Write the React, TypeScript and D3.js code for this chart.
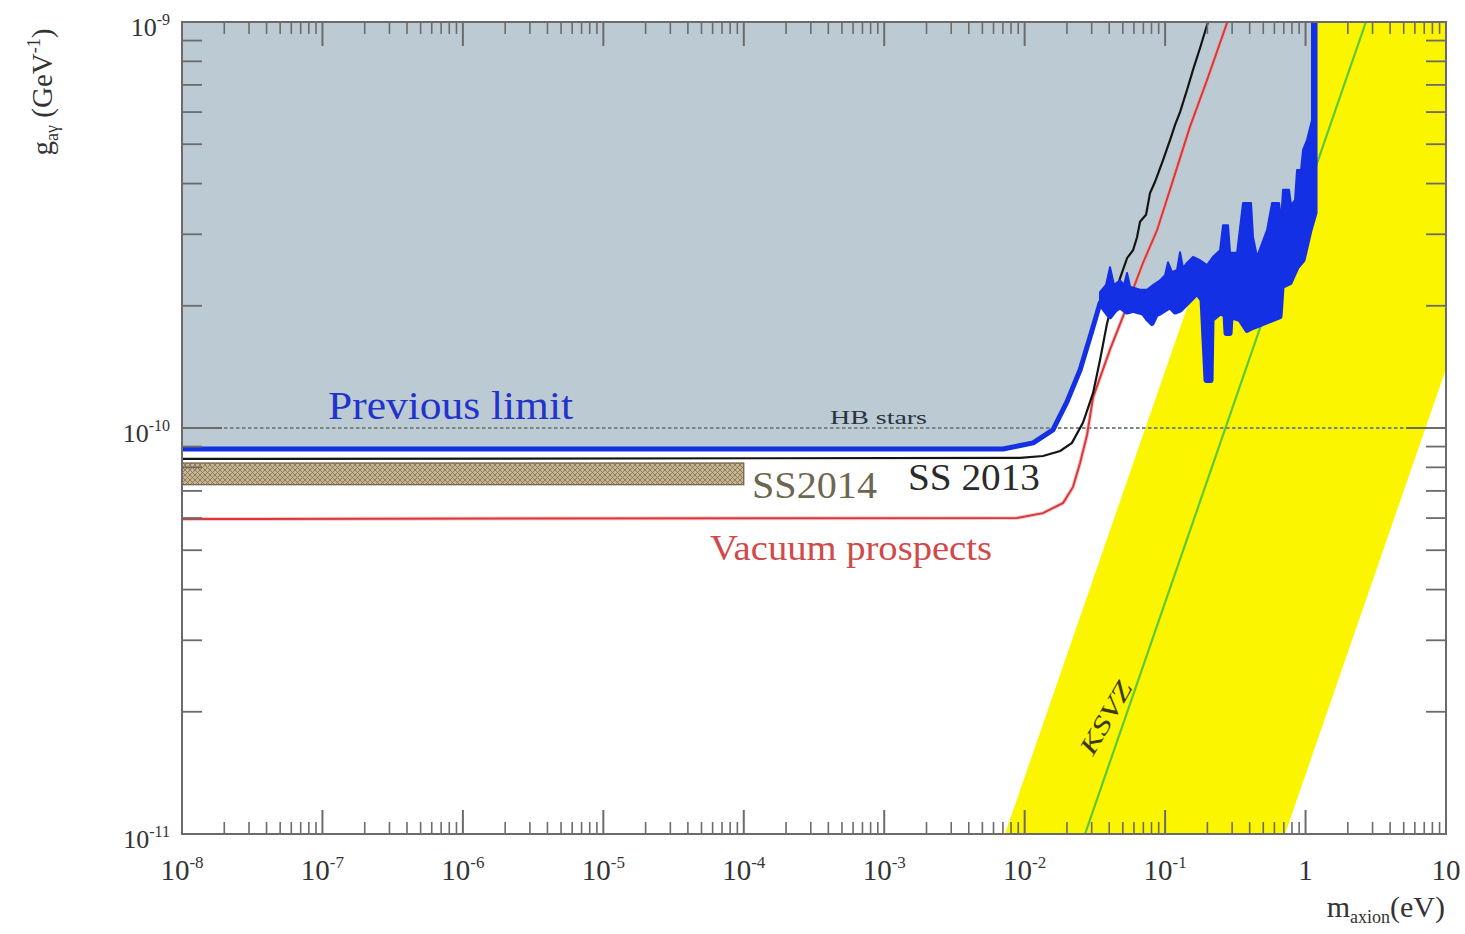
import React from 'react';
import * as d3 from 'd3';

// ---------- axes ----------
const xDomain: [number, number] = [1e-8, 10];
const yDomain: [number, number] = [1e-11, 1e-9];
const xTickValues = [1e-8, 1e-7, 1e-6, 1e-5, 1e-4, 1e-3, 1e-2, 1e-1, 1, 10];
const xTickBase = ['10', '10', '10', '10', '10', '10', '10', '10', '1', '10'];
const xTickExp = ['-8', '-7', '-6', '-5', '-4', '-3', '-2', '-1', '', ''];
const yTickValues = [1e-11, 1e-10, 1e-9];
const yTickExp = ['-11', '-10', '-9'];
const minorMultipliers = [2, 3, 4, 5, 6, 7, 8, 9];

// ---------- previous limit (blue) ----------
const prevMass = [1e-8, 7.02e-3, 1.15e-2, 1.59e-2, 2.0e-2, 2.48e-2, 3.02e-2, 3.44e-2];
const prevG = [8.88e-11, 8.88e-11, 9.19e-11, 9.89e-11, 1.16e-10, 1.39e-10, 1.74e-10, 2.03e-10];

const noiseUpperMass = [0.03441, 0.03796, 0.04053, 0.04327, 0.04775, 0.05099, 0.05357, 0.05626, 0.06628, 0.07434,
  0.08204, 0.09201, 0.09986, 0.1049, 0.112, 0.1216, 0.1277, 0.1341, 0.1432, 0.158, 0.1773, 0.1988, 0.2194, 0.2461,
  0.2585, 0.2805, 0.29, 0.3252, 0.3588, 0.4091, 0.4227, 0.4514, 0.5317, 0.5773, 0.6475, 0.669, 0.6914, 0.7628,
  0.788, 0.8415, 0.8696, 0.9286, 0.9596, 1.024, 1.112, 1.112];
const noiseUpperG = [2.16e-10, 2.25e-10, 2.49e-10, 2.25e-10, 2.31e-10, 2.25e-10, 2.41e-10, 2.23e-10, 2.19e-10, 2.19e-10,
  2.25e-10, 2.31e-10, 2.38e-10, 2.56e-10, 2.42e-10, 2.45e-10, 2.71e-10, 2.48e-10, 2.55e-10, 2.64e-10, 2.59e-10, 2.52e-10,
  2.64e-10, 2.74e-10, 3.16e-10, 3.16e-10, 2.7e-10, 2.7e-10, 3.58e-10, 3.58e-10, 2.95e-10, 2.64e-10, 3.07e-10, 3.58e-10,
  3.58e-10, 3.25e-10, 3.86e-10, 3.86e-10, 3.54e-10, 3.64e-10, 4.32e-10, 4.32e-10, 4.84e-10, 5.12e-10, 5.74e-10, 1e-9];

const noiseLowerMass = [0.03734, 0.04053, 0.04399, 0.04775, 0.05357, 0.0591, 0.06964, 0.07556, 0.08071, 0.08618,
  0.09201, 0.1084, 0.1177, 0.1277, 0.1432, 0.158, 0.1688, 0.1832, 0.1893, 0.1956, 0.2123, 0.2158, 0.2461, 0.2672,
  0.2715, 0.29, 0.2947, 0.3416, 0.3831, 0.4227, 0.498, 0.5869, 0.6581, 0.6802, 0.7753, 0.8696, 0.9596, 1.076, 1.168, 1.168];
const noiseLowerG = [1.95e-10, 1.88e-10, 1.95e-10, 1.99e-10, 1.93e-10, 1.95e-10, 1.92e-10, 1.85e-10, 1.81e-10, 1.9e-10,
  1.92e-10, 1.99e-10, 1.93e-10, 1.95e-10, 2.03e-10, 2.1e-10, 2.15e-10, 2.07e-10, 1.65e-10, 1.31e-10, 1.31e-10, 1.85e-10,
  1.92e-10, 1.9e-10, 1.71e-10, 1.71e-10, 1.88e-10, 1.85e-10, 1.74e-10, 1.77e-10, 1.81e-10, 1.85e-10, 1.88e-10, 2.23e-10,
  2.28e-10, 2.49e-10, 2.59e-10, 3.07e-10, 3.39e-10, 1e-9];

// ---------- SS 2013 (black) ----------
const ss2013Mass = [1e-8, 9.27e-3, 1.35e-2, 1.79e-2, 2.17e-2, 2.6e-2, 3.07e-2, 3.44e-2, 3.86e-2, 4.26e-2, 4.78e-2,
  0.05357, 0.0591, 0.06311, 0.06628, 0.07313, 0.07808, 0.08476, 0.09665, 0.1084, 0.1177, 0.1277, 0.1432, 0.158, 0.1773,
  0.202, 0.2158];
const ss2013G = [8.39e-11, 8.44e-11, 8.53e-11, 8.78e-11, 9.19e-11, 1.03e-10, 1.22e-10, 1.47e-10, 1.81e-10, 2.07e-10, 2.34e-10,
  2.62e-10, 2.74e-10, 2.95e-10, 3.22e-10, 3.35e-10, 3.79e-10, 4.04e-10, 4.57e-10, 5.12e-10, 5.58e-10, 6.0e-10, 6.8e-10,
  7.62e-10, 8.63e-10, 1e-9, 1.07e-9];

// ---------- vacuum prospects (red) ----------
const vacMass = [1e-8, 8.82e-3, 1.35e-2, 1.88e-2, 2.21e-2, 2.48e-2, 2.78e-2, 3.07e-2, 4.05e-2, 5.01e-2, 5.63e-2,
  6.96e-2, 8.76e-2, 0.1139, 0.15, 0.199, 0.276, 0.3026];
const vacG = [5.97e-11, 6.0e-11, 6.17e-11, 6.54e-11, 7.16e-11, 8.2e-11, 9.61e-11, 1.19e-10, 1.56e-10, 1.88e-10, 2.1e-10,
  2.55e-10, 3.07e-10, 4.08e-10, 5.51e-10, 7.2e-10, 9.95e-10, 1.08e-9];

// ---------- SS2014 band ----------
const ss2014Mass = [1e-8, 1e-4];
const ss2014G = [7.25e-11, 8.2e-11];

// ---------- HB stars ----------
const hbG = 1e-10;

// ---------- axion band (yellow) and KSVZ (green) ----------
const bandLeftMass = [7.24e-3, 0.724];
const bandLeftG = [1e-11, 1e-9];
const bandRightMass = [0.714, 10];
const bandRightG = [1e-11, 1.4e-10];
const ksvzMass = [0.0269, 2.69];
const ksvzG = [1e-11, 1e-9];

const SERIF = "'Liberation Serif', 'Times New Roman', serif";

type P = [number, number];
const zip = (a: number[], b: number[]): P[] => a.map((v, i) => [v, b[i]] as P);

export default function App() {
  const x = d3.scaleLog().domain(xDomain).range([182, 1446]);
  const y = d3.scaleLog().domain(yDomain).range([834, 22]);
  const line = d3.line<P>().x((d) => x(d[0])).y((d) => y(d[1]));

  const prev = zip(prevMass, prevG);
  const upper = zip(noiseUpperMass, noiseUpperG);
  const lower = zip(noiseLowerMass, noiseLowerG);

  const greyPoly: P[] = [[xDomain[0], yDomain[1]], ...prev, ...upper];
  const bandPoly: P[] = [...upper, ...lower.slice().reverse(), prev[prev.length - 1]];
  const blueLine: P[] = [...prev, ...lower];

  const yellowPoly: P[] = [
    [bandLeftMass[0], bandLeftG[0]],
    [bandLeftMass[1], bandLeftG[1]],
    [xDomain[1], yDomain[1]],
    [bandRightMass[1], bandRightG[1]],
    [bandRightMass[0], bandRightG[0]],
  ];

  const xMinor: number[] = [];
  for (let i = 0; i < xTickValues.length - 1; i++) minorMultipliers.forEach((k) => xMinor.push(xTickValues[i] * k));
  const yMinor: number[] = [];
  for (let i = 0; i < yTickValues.length - 1; i++) minorMultipliers.forEach((k) => yMinor.push(yTickValues[i] * k));

  const L = 182, R = 1446, T = 22, B = 834;
  const axisColor = '#6b6b6b';

  const ksvzAngle = -60;

  return (
    <svg width={1465} height={934} style={{ position: 'absolute', left: 0, top: 0, background: '#fff' }} fontFamily={SERIF}>
      <defs>
        <clipPath id="plotClip">
          <rect x={L} y={T} width={R - L} height={B - T} />
        </clipPath>
        <pattern id="hatch" width={5} height={5} patternUnits="userSpaceOnUse">
          <rect width={5} height={5} fill="#c6b592" />
          <path d="M0,0 L5,5 M5,0 L0,5" stroke="#8a7653" strokeWidth={0.9} />
        </pattern>
      </defs>
      <rect x={0} y={0} width={1465} height={934} fill="#fff" />

      <g clipPath="url(#plotClip)">
        {/* yellow band */}
        <path d={line(yellowPoly)! + 'Z'} fill="#fbf500" />
        {/* KSVZ */}
        <path d={line(zip(ksvzMass, ksvzG))!} stroke="#5cc83c" strokeWidth={2.2} fill="none" />
        {/* excluded region */}
        <path d={line(greyPoly)! + 'Z'} fill="#bccad3" />
        {/* SS2014 */}
        <rect
          x={x(ss2014Mass[0])}
          y={y(ss2014G[1])}
          width={x(ss2014Mass[1]) - x(ss2014Mass[0])}
          height={y(ss2014G[0]) - y(ss2014G[1])}
          fill="url(#hatch)"
          stroke="#6f5f44"
          strokeWidth={1.2}
        />
        {/* HB stars */}
        <line x1={L} x2={R} y1={y(hbG)} y2={y(hbG)} stroke="#7b8585" strokeWidth={2} strokeDasharray="3.5,2.5" />
        {/* vacuum prospects */}
        <path d={line(zip(vacMass, vacG))!} stroke="#f2a4a4" strokeWidth={4} fill="none" opacity={0.6} />
        <path d={line(zip(vacMass, vacG))!} stroke="#d83a3c" strokeWidth={2} fill="none" />
        {/* SS 2013 */}
        <path d={line(zip(ss2013Mass, ss2013G))!} stroke="#141414" strokeWidth={2.2} fill="none" />
        {/* previous limit */}
        <path d={line(bandPoly)! + 'Z'} fill="#1430e4" stroke="#1430e4" strokeWidth={2} strokeLinejoin="round" />
        <path d={line(blueLine)!} stroke="#1430e4" strokeWidth={5} fill="none" strokeLinejoin="round" />
      </g>

      {/* frame */}
      <rect x={L} y={T} width={R - L} height={B - T} fill="none" stroke={axisColor} strokeWidth={2} />
      {/* x ticks */}
      {xTickValues.map((v, i) => (
        <g key={'xt' + i}>
          <line x1={x(v)} x2={x(v)} y1={B} y2={B - 24} stroke={axisColor} strokeWidth={2} />
          <line x1={x(v)} x2={x(v)} y1={T} y2={T + 24} stroke={axisColor} strokeWidth={2} />
        </g>
      ))}
      {xMinor.map((v, i) => (
        <g key={'xm' + i}>
          <line x1={x(v)} x2={x(v)} y1={B} y2={B - 12} stroke={axisColor} strokeWidth={1.6} />
          <line x1={x(v)} x2={x(v)} y1={T} y2={T + 12} stroke={axisColor} strokeWidth={1.6} />
        </g>
      ))}
      {/* y ticks */}
      {yTickValues.map((v, i) => (
        <g key={'yt' + i}>
          <line x1={L} x2={L + 40} y1={y(v)} y2={y(v)} stroke={axisColor} strokeWidth={2} />
          <line x1={R} x2={R - 40} y1={y(v)} y2={y(v)} stroke={axisColor} strokeWidth={2} />
        </g>
      ))}
      {yMinor.map((v, i) => (
        <g key={'ym' + i}>
          <line x1={L} x2={L + 20} y1={y(v)} y2={y(v)} stroke={axisColor} strokeWidth={1.8} />
          <line x1={R} x2={R - 20} y1={y(v)} y2={y(v)} stroke={axisColor} strokeWidth={1.8} />
        </g>
      ))}

      {/* x tick labels */}
      {xTickValues.map((v, i) => (
        <text key={'xl' + i} x={x(v)} y={880} textAnchor="middle" fontSize={29} fill="#333">
          {xTickBase[i]}
          {xTickExp[i] && (
            <tspan dy={-12} fontSize={17}>
              {xTickExp[i]}
            </tspan>
          )}
        </text>
      ))}
      {/* y tick labels */}
      {yTickValues.map((v, i) => (
        <text key={'yl' + i} x={170} y={y(v) + 14} textAnchor="end" fontSize={26} fill="#333">
          10
          <tspan dy={-11} fontSize={16}>
            {yTickExp[i]}
          </tspan>
        </text>
      ))}

      {/* axis titles */}
      <text x={1445} y={917} textAnchor="end" fontSize={30} fill="#333">
        m
        <tspan dy={6} fontSize={18}>
          axion
        </tspan>
        <tspan dy={-6}>(eV)</tspan>
      </text>
      <text transform="translate(52,92) rotate(-90)" textAnchor="middle" fontSize={29} fill="#333">
        g
        <tspan dy={6} fontSize={18}>
          aγ
        </tspan>
        <tspan dy={-6}> (GeV</tspan>
        <tspan dy={-12} fontSize={18}>
          -1
        </tspan>
        <tspan dy={12}>)</tspan>
      </text>

      {/* annotations */}
      <text x={x(1.096e-7)} y={y(1.053e-10)} fontSize={41} fill="#2233cc" textLength={245} lengthAdjust="spacingAndGlyphs">
        Previous limit
      </text>
      <text x={x(4.11e-4)} y={y(1.023e-10)} fontSize={19} fill="#2a3440" textLength={97} lengthAdjust="spacingAndGlyphs">
        HB stars
      </text>
      <text x={x(1.145e-4)} y={y(6.73e-11)} fontSize={38} fill="#6d6650" textLength={125} lengthAdjust="spacingAndGlyphs">
        SS2014
      </text>
      <text x={x(1.477e-3)} y={y(7.04e-11)} fontSize={38} fill="#2a2a2a" textLength={132} lengthAdjust="spacingAndGlyphs">
        SS 2013
      </text>
      <text x={x(5.75e-5)} y={y(4.73e-11)} fontSize={35} fill="#d04a4a" textLength={282} lengthAdjust="spacingAndGlyphs">
        Vacuum prospects
      </text>
      <text
        transform={`translate(${x(0.038)},${y(1.93e-11)}) rotate(${ksvzAngle})`}
        textAnchor="middle"
        dy={8}
        fontSize={25}
        fontStyle="italic"
        fill="#3a3a14"
        textLength={80}
        lengthAdjust="spacingAndGlyphs"
      >
        KSVZ
      </text>
    </svg>
  );
}
